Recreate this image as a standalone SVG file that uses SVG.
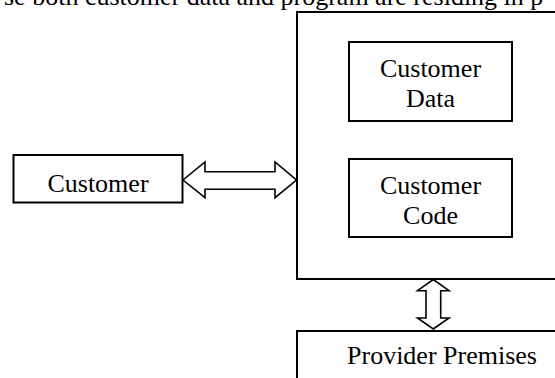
<svg xmlns="http://www.w3.org/2000/svg" width="555" height="378" viewBox="0 0 555 378">
<style>
.box{fill:#fff;stroke:#000;stroke-width:2}
.arr{fill:#fff;stroke:#000;stroke-width:1.6;stroke-linejoin:miter}
text{font-family:"Liberation Serif","Times New Roman",serif;font-size:26px;fill:#000}
.c{text-anchor:middle}
</style>
<rect width="555" height="378" fill="#fff"/>
<text x="4" y="5">se both customer data and program are residing in p</text>
<g id="cloud">
<rect class="box" x="297" y="12" width="270" height="267"/>
</g>
<g id="data">
<rect class="box" x="349" y="42" width="163" height="79"/>
<text class="c" x="430.5" y="77.3">Customer</text>
<text class="c" x="430.5" y="106.7">Data</text>
</g>
<g id="code">
<rect class="box" x="349" y="159" width="163" height="78"/>
<text class="c" x="430.5" y="194">Customer</text>
<text class="c" x="430.5" y="224">Code</text>
</g>
<g id="customer">
<rect class="box" x="13.5" y="155" width="169" height="47.5"/>
<text class="c" x="98" y="191.5">Customer</text>
</g>
<g id="provider">
<rect class="box" x="297" y="331" width="270" height="60"/>
<text class="c" x="442" y="364">Provider Premises</text>
</g>
<g id="connectors">
<polygon class="arr" points="183,180 205,162 205,171.7 275,171.7 275,162 296.5,180 275,197.7 275,189.3 205,189.3 205,197.7"/>
<polygon class="arr" points="433.3,279.5 449,290.7 440.7,290.7 440.7,318 449,318 433.3,329 417.5,318 426,318 426,290.7 417.5,290.7"/>
</g>
</svg>
